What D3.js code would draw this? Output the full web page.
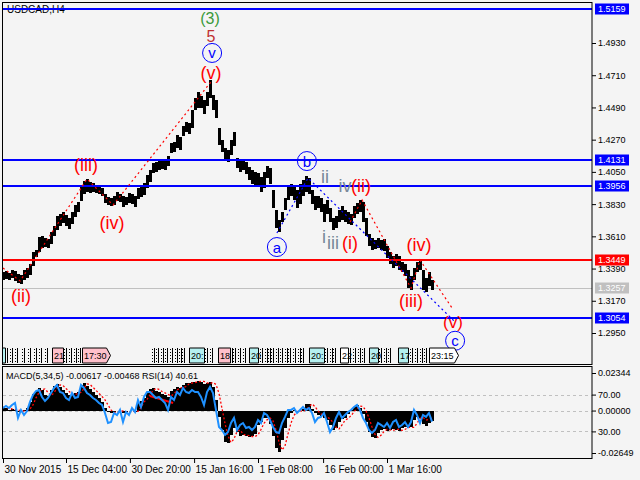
<!DOCTYPE html>
<html>
<head>
<meta charset="utf-8">
<script src="https://cdn.jsdelivr.net/npm/d3@7"></script>
<style>
  body { margin: 0; background: #f4f4f4; }
  svg { display: block; }
</style>
</head>
<body>
<div id="chart"></div>
<script>
// USDCAD H4 - high/low of every 3rd bar
var hi = [1.3366,1.3373,1.3359,1.3380,1.3373,1.3353,1.3346,1.3380,1.3394,1.3421,
  1.3503,1.3517,1.3605,1.3612,1.3599,1.3592,1.3639,1.3680,1.3749,1.3762,
  1.3776,1.3756,1.3735,1.3776,1.3824,1.3844,1.3954,1.3988,1.4001,1.3981,
  1.3974,1.3960,1.3954,1.3940,1.3899,1.3879,1.3872,1.3885,1.3913,1.3899,
  1.3885,1.3879,1.3906,1.3899,1.3885,1.3940,1.3954,1.3974,1.4029,1.4063,
  1.4111,1.4118,1.4131,1.4138,1.4131,1.4159,1.4247,1.4254,1.4302,1.4288,
  1.4363,1.4391,1.4384,1.4473,1.4555,1.4596,1.4568,1.4541,1.4596,1.4678,
  1.4575,1.4541,1.4350,1.4268,1.4213,1.4200,1.4268,1.4322,1.4145,1.4131,
  1.4131,1.4118,1.4083,1.4063,1.4049,1.4042,1.4015,1.4049,1.4090,1.4077,
  1.3926,1.3790,1.3721,1.3776,1.3872,1.3954,1.3967,1.3954,1.3926,1.3967,
  1.3995,1.4022,1.4008,1.3926,1.3885,1.3885,1.3872,1.3831,1.3858,1.3803,
  1.3735,1.3749,1.3790,1.3817,1.3790,1.3776,1.3762,1.3817,1.3838,1.3858,
  1.3844,1.3735,1.3626,1.3599,1.3585,1.3599,1.3585,1.3592,1.3544,1.3503,
  1.3476,1.3489,1.3476,1.3435,1.3421,1.3380,1.3339,1.3394,1.3435,1.3448,
  1.3380,1.3325,1.3366,1.3312];
var lo = [1.3312,1.3318,1.3312,1.3325,1.3305,1.3291,1.3284,1.3312,1.3325,1.3346,
  1.3407,1.3469,1.3503,1.3530,1.3537,1.3530,1.3558,1.3612,1.3653,1.3680,
  1.3701,1.3680,1.3660,1.3694,1.3742,1.3776,1.3851,1.3899,1.3913,1.3906,
  1.3913,1.3906,1.3899,1.3885,1.3838,1.3824,1.3817,1.3824,1.3851,1.3844,
  1.3810,1.3824,1.3838,1.3831,1.3810,1.3865,1.3879,1.3892,1.3940,1.3981,
  1.4042,1.4049,1.4063,1.4070,1.4063,1.4090,1.4179,1.4186,1.4213,1.4200,
  1.4295,1.4322,1.4309,1.4350,1.4473,1.4486,1.4486,1.4445,1.4500,1.4555,
  1.4473,1.4418,1.4234,1.4186,1.4131,1.4118,1.4165,1.4227,1.4077,1.4049,
  1.4063,1.4036,1.3995,1.3967,1.3954,1.3954,1.3913,1.3940,1.4008,1.3967,
  1.3803,1.3667,1.3639,1.3708,1.3790,1.3858,1.3885,1.3858,1.3803,1.3831,
  1.3885,1.3913,1.3899,1.3831,1.3790,1.3803,1.3776,1.3708,1.3762,1.3708,
  1.3653,1.3667,1.3708,1.3721,1.3708,1.3694,1.3687,1.3735,1.3762,1.3776,
  1.3708,1.3612,1.3544,1.3517,1.3523,1.3530,1.3517,1.3510,1.3462,1.3421,
  1.3394,1.3407,1.3380,1.3366,1.3339,1.3257,1.3243,1.3312,1.3366,1.3380,
  1.3243,1.3230,1.3271,1.3243];

// MACD(5,34,5) main, signal and RSI(14), same bars
var macd = [0.0022,0.0016,0.0004,0.0010,0.0004,-0.0009,-0.0002,0.0004,0.0016,0.0054,
  0.0104,0.0122,0.0141,0.0129,0.0097,0.0091,0.0129,0.0154,0.0166,0.0147,
  0.0129,0.0110,0.0097,0.0104,0.0110,0.0116,0.0160,0.0172,0.0154,0.0135,
  0.0116,0.0097,0.0079,0.0054,0.0016,-0.0009,-0.0015,-0.0009,-0.0002,-0.0002,
  -0.0015,-0.0009,-0.0002,-0.0002,-0.0009,0.0047,0.0060,0.0079,0.0116,0.0135,
  0.0141,0.0122,0.0116,0.0104,0.0097,0.0085,0.0122,0.0135,0.0147,0.0141,
  0.0160,0.0172,0.0172,0.0179,0.0179,0.0185,0.0179,0.0166,0.0172,0.0179,
  0.0147,0.0066,-0.0040,-0.0121,-0.0196,-0.0202,-0.0152,-0.0109,-0.0134,-0.0159,
  -0.0152,-0.0159,-0.0165,-0.0159,-0.0146,-0.0090,-0.0071,-0.0046,-0.0046,-0.0084,
  -0.0159,-0.0234,-0.0258,-0.0184,-0.0109,-0.0046,-0.0015,0.0004,-0.0009,-0.0002,
  0.0010,0.0041,0.0041,0.0010,-0.0015,-0.0027,-0.0034,-0.0046,-0.0059,-0.0090,
  -0.0121,-0.0109,-0.0071,-0.0052,-0.0046,-0.0021,0.0004,0.0022,0.0035,0.0016,
  -0.0021,-0.0071,-0.0134,-0.0165,-0.0171,-0.0140,-0.0121,-0.0115,-0.0127,-0.0121,
  -0.0115,-0.0121,-0.0127,-0.0109,-0.0102,-0.0109,-0.0102,-0.0059,-0.0040,-0.0046,
  -0.0084,-0.0096,-0.0077,-0.0062];
var signal = [0.0020,0.0020,0.0015,0.0010,0.0007,0.0004,-0.0002,-0.0003,0.0001,0.0010,
  0.0035,0.0079,0.0113,0.0131,0.0135,0.0113,0.0094,0.0110,0.0141,0.0160,
  0.0156,0.0138,0.0120,0.0103,0.0100,0.0107,0.0113,0.0138,0.0166,0.0163,
  0.0145,0.0126,0.0107,0.0088,0.0067,0.0035,0.0004,-0.0012,-0.0012,-0.0006,
  -0.0002,-0.0008,-0.0012,-0.0006,-0.0002,-0.0005,0.0019,0.0054,0.0070,0.0098,
  0.0125,0.0138,0.0132,0.0119,0.0110,0.0101,0.0091,0.0104,0.0128,0.0141,
  0.0144,0.0150,0.0166,0.0172,0.0175,0.0179,0.0182,0.0182,0.0172,0.0169,
  0.0175,0.0163,0.0107,0.0013,-0.0080,-0.0158,-0.0199,-0.0177,-0.0131,-0.0121,
  -0.0146,-0.0155,-0.0156,-0.0162,-0.0162,-0.0152,-0.0118,-0.0080,-0.0058,-0.0046,
  -0.0065,-0.0121,-0.0196,-0.0246,-0.0221,-0.0146,-0.0078,-0.0030,-0.0006,-0.0002,
  -0.0005,0.0004,0.0025,0.0041,0.0025,-0.0002,-0.0021,-0.0030,-0.0040,-0.0052,
  -0.0074,-0.0105,-0.0115,-0.0090,-0.0061,-0.0049,-0.0033,-0.0008,0.0013,0.0028,
  0.0025,-0.0002,-0.0046,-0.0102,-0.0149,-0.0168,-0.0155,-0.0130,-0.0118,-0.0121,
  -0.0124,-0.0118,-0.0118,-0.0124,-0.0118,-0.0105,-0.0105,-0.0105,-0.0080,-0.0049,
  -0.0043,-0.0060,-0.0055,-0.0047];
var rsi = [55.4,57.6,55.4,58.7,60.9,44.6,53.3,47.8,52.2,62.0,
  69.6,73.9,75.0,67.4,63.0,66.3,71.7,77.2,80.4,72.8,
  71.7,66.3,64.1,71.7,66.3,67.4,80.4,77.2,71.7,69.6,
  66.3,64.1,60.9,58.7,50.0,39.1,40.2,50.0,47.8,53.3,
  40.2,51.1,47.8,55.4,51.1,64.1,56.5,67.4,72.8,72.8,
  69.6,66.3,67.4,64.1,60.9,53.3,67.4,64.1,72.8,69.6,
  77.2,72.8,71.7,75.0,72.8,72.8,67.4,58.7,72.8,78.3,
  71.7,53.3,34.8,31.5,26.1,29.3,39.1,44.6,31.5,37.0,
  39.1,33.7,34.8,31.5,34.8,42.4,39.1,50.0,47.8,42.4,
  34.8,29.3,28.3,39.1,45.7,53.3,53.3,55.4,50.0,53.3,
  56.5,53.3,55.4,50.0,40.2,44.6,45.7,50.0,40.2,29.3,
  34.8,44.6,51.1,44.6,47.8,51.1,53.3,56.5,58.7,53.3,
  44.6,39.1,31.5,28.3,31.5,39.1,37.0,34.8,39.1,33.7,
  40.2,42.4,34.8,37.0,40.2,34.8,40.2,53.3,47.8,39.1,
  47.8,45.7,50.0,40.6];

// axes / levels
var priceTicks = [1.4930, 1.4710, 1.4490, 1.4270, 1.4050, 1.3830, 1.3610, 1.3390, 1.3170, 1.2950];
var levels = [1.5159, 1.4131, 1.3956, 1.3449, 1.3054];
var levelColors = ["#0000ff", "#0000ff", "#0000ff", "#ff0000", "#0000ff"];
var bid = 1.3257;
var macdTicks = [0.02344, 0, -0.02649];
var rsiTicks = [70, 30];
var timeIdx = [0, 21, 42.3, 63.7, 85, 106.7, 128];
var timeLabels = ["30 Nov 2015", "15 Dec 04:00", "30 Dec 20:00", "15 Jan 16:00", "1 Feb 08:00", "16 Feb 00:00", "1 Mar 16:00"];

// wave marks: [bar index, price, text, kind]
var waveLabels = [
  [69, 1.5094, "(3)", "g3"], [69.3, 1.4971, "5", "r5"], [69.7, 1.4862, "v", "c"],
  [69.3, 1.4725, "(v)", "r"], [27.7, 1.4097, "(iii)", "r"], [36.3, 1.3701, "(iv)", "r"],
  [6, 1.3202, "(ii)", "r"], [91.3, 1.3537, "a", "c"], [101.3, 1.4124, "b", "c"],
  [107.3, 1.4015, "ii", "s"], [114, 1.3954, "iv", "s"], [119.3, 1.3954, "(ii)", "r"],
  [107, 1.3605, "i", "s"], [110, 1.3564, "iii", "s"], [115.7, 1.3564, "(i)", "r"],
  [138.7, 1.3551, "(iv)", "r"], [136, 1.3168, "(iii)", "r"], [150, 1.3024, "(v)", "r"],
  [150.7, 1.2897, "c", "c"]
];
var redWave1 = [[0, 1.3394], [5.7, 1.3305], [28, 1.4001], [36.7, 1.3824], [69.3, 1.4664]];
var redWave2 = [[115.7, 1.3708], [119.7, 1.3858], [136, 1.3257], [139, 1.3448], [149.7, 1.3120]];
var blueWave = [[91.3, 1.3633], [101.7, 1.4008], [150.7, 1.3025]];
var macdTrend = [[49, 0.0091], [56.7, 0.0047]];

// session strip: tick marks and boxes [from idx, to idx, fill, text, arrow]
var sessTicks = [1.3, 3, 4.7, 7, 9, 11, 12.7, 14.7, 21, 22.7, 24.3, 25.7,
  50.3, 51.7, 53.3, 54.7, 56.3, 58, 59.3, 60.3, 68, 69.7, 76.3, 77.3, 79, 80.7,
  86.3, 88, 89, 90, 91.7, 93, 94.7, 95.7, 97.3, 99, 100, 108, 109.7, 110.7,
  115.7, 117.3, 119, 120.3, 126, 127.7, 129, 136.3, 138, 139.7, 141];
var sessBoxes = [
  [-0.3, 0.7, "#b4f0f0", "", false], [16.3, 20, "#ffc0cb", "21", false],
  [26.3, 35.7, "#ffc0cb", "17:30", true], [62, 67, "#b4f0f0", "20:", false],
  [71.7, 75.7, "#ffc0cb", "18", false], [82, 85, "#b4f0f0", "20", false],
  [102, 107, "#b4f0f0", "20:", false], [112.3, 115, "#ffffff", "22", false],
  [122, 125, "#b4f0f0", "20", false], [131.7, 135, "#b4f0f0", "17", false],
  [142, 151.7, "#ffffff", "23:15", true]
];

var FONT = "'Liberation Sans', Arial, sans-serif";
var W = 640, H = 480;
var L = 3, R = 592;

var svg = d3.select("#chart").append("svg")
  .attr("width", W).attr("height", H)
  .attr("font-family", FONT);

svg.append("rect").attr("width", W).attr("height", H).attr("fill", "#f4f4f4");

// scales
var x = d3.scaleLinear().domain([0, hi.length - 1]).range([L, L + 3 * (hi.length - 1)]);
var yP = d3.scaleLinear().domain([1.2950, 1.4930]).range([333, 43]);
var yM = d3.scaleLinear().domain([-0.02649, 0.02344]).range([453, 373]);
var yR = d3.scaleLinear().domain([0, 100]).range([459, 367]);

var defs = svg.append("defs");
defs.append("clipPath").attr("id", "clipMain")
  .append("rect").attr("x", L).attr("y", 3).attr("width", R - L).attr("height", 361);
defs.append("clipPath").attr("id", "clipSub")
  .append("rect").attr("x", L).attr("y", 367).attr("width", R - L).attr("height", 91);

var main = svg.append("g").attr("clip-path", "url(#clipMain)");
var sub = svg.append("g").attr("clip-path", "url(#clipSub)");

// title
main.append("text").attr("x", 7).attr("y", 13).attr("font-size", 10).text("USDCAD,H4");

// bid line
main.append("line").attr("x1", L).attr("x2", R)
  .attr("y1", Math.round(yP(bid)) + 0.5).attr("y2", Math.round(yP(bid)) + 0.5)
  .attr("stroke", "#c0c0c0");

// price bars
main.append("g").attr("shape-rendering", "crispEdges")
  .selectAll("rect").data(hi).enter().append("rect")
  .attr("x", (d, i) => Math.round(x(i)) - 1)
  .attr("width", 3)
  .attr("y", d => Math.round(yP(d)))
  .attr("height", (d, i) => Math.max(1, Math.round(yP(lo[i])) - Math.round(yP(d))))
  .attr("fill", "#000");

// level lines
main.selectAll("line.level").data(levels).enter().append("line")
  .attr("class", "level")
  .attr("x1", L).attr("x2", R)
  .attr("y1", d => Math.round(yP(d))).attr("y2", d => Math.round(yP(d)))
  .attr("stroke", (d, i) => levelColors[i]).attr("stroke-width", 2);

// wave lines
var waveLine = d3.line().x(d => x(d[0])).y(d => yP(d[1]));
[[redWave1, "#ff0000"], [redWave2, "#ff0000"], [blueWave, "#0000ff"]].forEach(function(w) {
  main.append("path").attr("d", waveLine(w[0]))
    .attr("fill", "none").attr("stroke", w[1])
    .attr("stroke-width", 1.2).attr("stroke-dasharray", "2,3");
});

// wave labels
var waveColor = { r: "#ff0000", r5: "#c03030", g3: "#3a9a3a", c: "#0000ff", s: "#778899" };
var waveSize = { r: 18, r5: 16, g3: 16, c: 15, s: 18 };
waveLabels.forEach(function(d, i) {
  var cx = x(d[0]), cy = yP(d[1]);
  if (d[3] === "c") {
    main.append("circle").attr("cx", cx).attr("cy", cy).attr("r", 9.5)
      .attr("fill", "none").attr("stroke", "#0000ff");
  }
  main.append("text")
    .attr("x", cx).attr("y", cy)
    .attr("text-anchor", "middle").attr("dominant-baseline", "central")
    .attr("font-size", i === 17 ? 17 : waveSize[d[3]])
    .attr("fill", waveColor[d[3]])
    .text(d[2]);
});

// session strip
var sTop = 348, sBot = 363;
sessTicks.forEach(function(t) {
  var px = Math.round(x(t)) + 0.5;
  main.append("line").attr("x1", px).attr("x2", px).attr("y1", sTop).attr("y2", sBot)
    .attr("stroke", "#000");
  main.append("line").attr("x1", px - 2).attr("x2", px - 2).attr("y1", sTop + 1).attr("y2", sBot - 1)
    .attr("stroke", "#000").attr("stroke-dasharray", "1,2");
});
sessBoxes.forEach(function(b) {
  var x0 = Math.round(x(b[0])) + 0.5, x1 = Math.round(x(b[1])) + 0.5;
  var pts = b[4]
    ? [[x0, sTop], [x1 - 4, sTop], [x1, (sTop + sBot) / 2], [x1 - 4, sBot], [x0, sBot]]
    : [[x0, sTop], [x1, sTop], [x1, sBot], [x0, sBot]];
  main.append("path").attr("d", d3.line()(pts) + "Z")
    .attr("fill", b[2]).attr("stroke", "#000").attr("stroke-width", 1);
  if (b[3]) {
    main.append("text").attr("x", x0 + 1.5).attr("y", sBot - 4)
      .attr("font-size", 9).text(b[3]);
  }
});

// MACD window
[70, 30].forEach(function(v) {
  sub.append("line").attr("x1", L).attr("x2", R)
    .attr("y1", Math.round(yR(v)) + 0.5).attr("y2", Math.round(yR(v)) + 0.5)
    .attr("stroke", "#c0c0c0").attr("stroke-dasharray", "3,3");
});
sub.append("line").attr("x1", L).attr("x2", R)
  .attr("y1", Math.round(yM(0)) + 0.5).attr("y2", Math.round(yM(0)) + 0.5)
  .attr("stroke", "#c0c0c0").attr("stroke-dasharray", "3,3");

sub.append("g").attr("shape-rendering", "crispEdges")
  .selectAll("rect").data(macd).enter().append("rect")
  .attr("x", (d, i) => Math.round(x(i)) - 1)
  .attr("width", 3)
  .attr("y", d => Math.round(Math.min(yM(d), yM(0))))
  .attr("height", d => Math.round(Math.abs(yM(d) - yM(0))))
  .attr("fill", "#000");

sub.append("path")
  .attr("d", d3.line().x((d, i) => x(i)).y(d => yM(d))(signal))
  .attr("fill", "none").attr("stroke", "#ff0000")
  .attr("stroke-width", 1.3).attr("stroke-dasharray", "2,2");

sub.append("path")
  .attr("d", d3.line().x(d => x(d[0])).y(d => yM(d[1]))(macdTrend))
  .attr("fill", "none").attr("stroke", "#ff0000").attr("stroke-width", 2);

sub.append("path")
  .attr("d", d3.line().x((d, i) => x(i)).y(d => yR(d))(rsi))
  .attr("fill", "none").attr("stroke", "#1e90ff").attr("stroke-width", 2);

sub.append("text").attr("x", 6).attr("y", 379).attr("font-size", 9)
  .text("MACD(5,34,5) -0.00617 -0.00468 RSI(14) 40.61");

// frames
svg.append("rect").attr("x", L - 0.5).attr("y", 2.5).attr("width", R - L + 0.5).attr("height", 362)
  .attr("fill", "none").attr("stroke", "#000");
svg.append("rect").attr("x", L - 0.5).attr("y", 366.5).attr("width", R - L + 0.5).attr("height", 92)
  .attr("fill", "none").attr("stroke", "#000");

// price axis
var gy = svg.append("g").attr("transform", "translate(" + R + ",0)")
  .call(d3.axisRight(yP).tickValues(priceTicks).tickSize(4).tickPadding(2)
    .tickFormat(d => d.toFixed(4)));
gy.select(".domain").remove();
gy.attr("font-family", FONT).attr("font-size", 9);

// level price tags
var tags = levels.map((d, i) => [d, levelColors[i]]).concat([[bid, "#c0c0c0"]]);
tags.forEach(function(t) {
  var cy = Math.round(yP(t[0]));
  svg.append("rect").attr("x", R + 3).attr("y", cy - 5.5).attr("width", 34).attr("height", 11)
    .attr("fill", t[1]);
  svg.append("text").attr("x", R + 6).attr("y", cy + 3).attr("font-size", 9)
    .attr("fill", "#fff").text(t[0].toFixed(4));
});

// MACD / RSI axis
var gm = svg.append("g").attr("transform", "translate(" + R + ",0)")
  .call(d3.axisRight(yM).tickValues(macdTicks).tickSize(4).tickPadding(2)
    .tickFormat(d => d.toFixed(5)));
gm.select(".domain").remove();
gm.attr("font-family", FONT).attr("font-size", 9);
var gr = svg.append("g").attr("transform", "translate(" + R + ",0)")
  .call(d3.axisRight(yR).tickValues(rsiTicks).tickSize(4).tickPadding(2)
    .tickFormat(d => d.toFixed(2)));
gr.select(".domain").remove();
gr.attr("font-family", FONT).attr("font-size", 9);

// time axis
var gx = svg.append("g").attr("transform", "translate(0,459)")
  .call(d3.axisBottom(x).tickValues(timeIdx).tickSize(4)
    .tickFormat((d, i) => timeLabels[i]));
gx.select(".domain").remove();
gx.attr("font-family", FONT).attr("font-size", 10);
gx.selectAll("text").attr("text-anchor", "start").attr("x", 1);
</script>
</body>
</html>
